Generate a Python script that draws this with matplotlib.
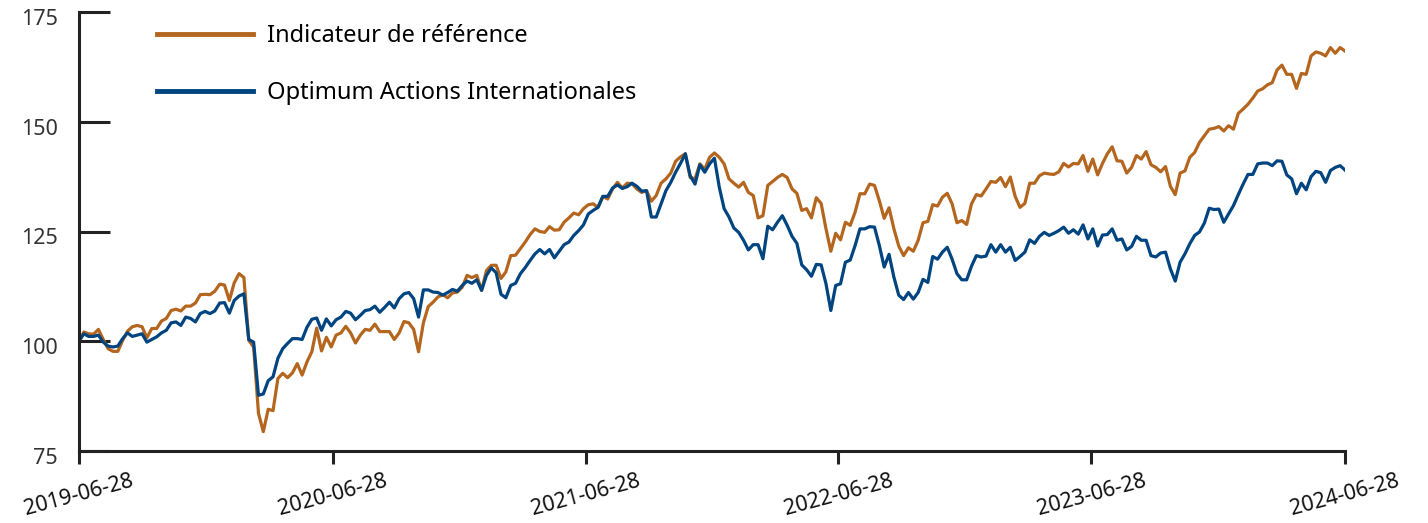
import numpy as np
import pandas as pd
import matplotlib
matplotlib.use("Agg")
import matplotlib.pyplot as plt
import matplotlib.dates as mdates
from matplotlib.transforms import ScaledTranslation

plt.rcParams['font.family'] = ['Noto Sans', 'DejaVu Sans']

# weekly values, 2019-06-28 -> 2024-06-28
start_date = "2019-06-28"
tick_dates = ["2019-06-28", "2020-06-28", "2021-06-28", "2022-06-28", "2023-06-28", "2024-06-28"]
series_names = ["Indicateur de référence", "Optimum Actions Internationales"]

ref_y1 = [100.0, 102.1, 101.7, 101.6, 102.7, 100.4, 98.3, 97.7, 97.7, 100.2, 102.3, 103.3, 103.6,
          103.3, 100.8, 102.9, 102.9, 104.6, 105.2, 107.0, 107.3, 106.9, 108.0, 108.0, 108.7, 110.6,
          110.7, 110.6, 111.4, 113.0, 112.8, 109.3, 113.3, 115.4, 114.5, 100.2, 98.7, 83.6, 79.4,
          84.5, 84.2, 91.5, 92.7, 91.7, 92.8, 94.9, 92.3, 95.3, 97.6, 103.0, 97.8, 100.9]
ref_y2 = [98.7, 101.4, 101.9, 103.4, 101.9, 99.6, 101.4, 102.7, 102.5, 103.9, 102.2, 102.2, 102.2,
          100.4, 101.9, 104.5, 104.2, 102.7, 97.6, 104.2, 107.9, 108.9, 110.1, 110.6, 109.9, 111.0,
          111.2, 112.3, 115.0, 114.5, 115.0, 111.6, 116.1, 117.3, 117.3, 114.3, 115.8, 119.5, 119.6,
          121.1, 122.6, 124.3, 125.6, 125.0, 124.8, 126.1, 125.3, 125.4, 127.1, 128.1, 129.2, 128.8,
          130.2, 131.1]
ref_y3 = [131.3, 130.5, 133.0, 132.4, 134.7, 136.2, 134.9, 136.0, 135.9, 134.7, 133.9, 134.3, 131.9,
          133.2, 136.0, 137.0, 138.3, 141.0, 142.0, 142.7, 137.3, 137.0, 140.4, 139.2, 141.9, 142.9,
          141.9, 140.4, 137.0, 136.0, 135.1, 136.2, 133.9, 133.2, 128.1, 128.6, 135.5, 136.4, 137.3,
          138.0, 137.3, 134.7, 133.7, 129.8, 130.2, 128.1, 132.7, 131.4, 125.6, 120.5, 124.6, 123.1,
          127.1, 126.4]
ref_y4 = [129.4, 133.6, 133.6, 135.8, 135.5, 132.0, 128.0, 130.4, 125.6, 121.7, 119.5, 121.3, 120.5,
          123.0, 127.0, 127.3, 131.1, 130.8, 132.8, 133.7, 131.3, 127.0, 127.5, 126.6, 131.3, 133.4,
          133.1, 134.7, 136.4, 136.2, 137.3, 135.2, 137.4, 133.0, 130.5, 131.4, 136.0, 136.0, 137.7,
          138.3, 138.1, 138.0, 138.6, 140.5, 139.7, 140.5, 140.4]
ref_y5 = [142.3, 138.7, 141.5, 137.9, 140.5, 142.7, 144.3, 141.1, 141.0, 138.3, 139.6, 142.3, 141.5,
          143.2, 140.2, 139.6, 138.6, 139.8, 135.3, 133.4, 138.3, 138.8, 141.9, 143.0, 145.3, 146.8,
          148.3, 148.5, 148.9, 147.9, 149.1, 148.3, 151.9, 152.9, 154.0, 155.4, 157.0, 157.5, 158.4,
          158.9, 161.8, 162.9, 160.8, 160.8, 157.6, 161.0, 160.8, 165.0, 165.9, 165.6, 165.0, 166.9,
          165.6, 166.9, 166.1]

fund_y1 = [100.0, 101.7, 101.1, 101.1, 101.4, 99.8, 98.9, 98.7, 98.9, 100.6, 101.9, 101.1, 101.4,
           101.7, 99.8, 100.4, 101.0, 101.9, 102.5, 104.2, 104.4, 103.6, 105.5, 105.2, 104.4, 106.3,
           106.8, 106.3, 106.9, 108.7, 108.8, 106.4, 109.3, 110.3, 110.8, 100.4, 99.8, 87.7, 88.0,
           91.0, 91.9, 96.1, 98.3, 99.5, 100.6, 100.6, 100.4, 103.2, 105.0, 105.3, 102.5, 105.1]
fund_y2 = [103.5, 104.9, 105.5, 106.8, 106.4, 104.9, 105.9, 107.0, 107.2, 108.0, 106.6, 107.7, 108.9,
           107.6, 109.7, 110.8, 111.1, 109.7, 105.5, 111.7, 111.7, 111.2, 111.1, 110.5, 111.1, 111.8,
           111.4, 112.7, 113.7, 113.2, 114.0, 111.6, 115.0, 116.7, 115.6, 110.7, 109.9, 112.7, 113.2,
           115.4, 116.8, 118.4, 119.9, 120.9, 119.9, 120.9, 119.0, 120.5, 122.0, 122.6, 124.1, 125.2,
           126.5, 129.0]
fund_y3 = [129.8, 130.5, 133.0, 133.0, 134.9, 135.6, 134.8, 135.2, 136.0, 135.3, 134.2, 134.3, 128.3,
           128.3, 131.3, 134.3, 136.2, 138.5, 140.5, 142.7, 137.7, 135.8, 140.2, 138.5, 140.4, 141.7,
           135.1, 130.2, 128.3, 125.8, 124.8, 123.0, 120.8, 122.0, 122.0, 118.8, 126.2, 125.4, 127.1,
           128.6, 126.4, 123.9, 122.3, 117.4, 116.3, 114.8, 117.5, 117.4, 113.1, 107.0, 112.7, 113.1,
           118.0, 118.5]
fund_y4 = [121.8, 125.6, 125.6, 126.1, 126.0, 121.8, 116.9, 119.8, 114.6, 110.5, 109.5, 111.1, 109.6,
           111.1, 114.1, 113.4, 119.3, 118.7, 120.3, 121.4, 118.7, 115.4, 114.0, 114.0, 117.1, 119.5,
           119.2, 119.4, 122.0, 120.3, 122.0, 120.3, 121.4, 118.4, 119.3, 120.3, 123.1, 122.3, 123.9,
           124.8, 124.1, 124.6, 125.2, 126.0, 124.6, 125.4, 124.4]
fund_y5 = [126.5, 123.3, 125.6, 121.7, 124.2, 124.3, 125.6, 123.0, 123.3, 120.8, 121.6, 123.9, 123.0,
           123.0, 119.5, 119.2, 120.1, 120.3, 116.5, 113.7, 118.0, 119.9, 122.2, 124.1, 124.9, 126.9,
           130.3, 130.0, 130.1, 127.1, 129.0, 130.9, 133.4, 135.8, 138.0, 138.0, 140.4, 140.6, 140.6,
           140.0, 141.1, 141.0, 137.9, 137.0, 133.6, 136.0, 134.5, 137.5, 138.7, 138.4, 136.2, 138.9,
           139.6, 140.0, 139.0]

ref = ref_y1 + ref_y2 + ref_y3 + ref_y4 + ref_y5
fund = fund_y1 + fund_y2 + fund_y3 + fund_y4 + fund_y5
dates = pd.date_range(start_date, periods=len(ref), freq="7D")

orange = "#B4661E"
blue = "#004480"
dark = "#222222"

fig = plt.figure(figsize=(14.28, 5.23), dpi=100)
ax = fig.add_axes([79 / 1428, 1 - 451 / 523, (1345 - 79) / 1428, (451 - 12) / 523])

ax.plot(dates, ref, color=orange, lw=2.3, label=series_names[0])
ax.plot(dates[:len(fund)], fund, color=blue, lw=2.3, label=series_names[1])

ax.set_ylim(75, 175)
ax.set_yticks([75, 100, 125, 150, 175])
ax.set_xlim(pd.Timestamp(tick_dates[0]), pd.Timestamp(tick_dates[-1]))
ax.set_xticks([pd.Timestamp(d) for d in tick_dates])
ax.set_xticklabels(tick_dates, rotation=15, ha="center")

for s in ["top", "right"]:
    ax.spines[s].set_visible(False)
for s in ["left", "bottom"]:
    ax.spines[s].set_linewidth(2.2)
    ax.spines[s].set_color(dark)

ax.tick_params(axis="y", direction="in", length=22, width=2.2, color=dark,
               labelsize=15.5, labelcolor="#333333", pad=15)
ax.tick_params(axis="x", direction="out", length=9, width=2.2, color=dark,
               labelsize=15.5, labelcolor="#111111", pad=5)
for lab in ax.get_yticklabels():
    lab.set_transform(lab.get_transform() + ScaledTranslation(0, -5 / 100, fig.dpi_scale_trans))

leg = ax.legend(loc="upper left", bbox_to_anchor=(0.045, 1.02), frameon=False, fontsize=17,
                handlelength=4.05, handletextpad=0.62, labelspacing=1.38)
for line in leg.get_lines():
    line.set_linewidth(3.5)

fig.savefig("out.png", dpi=100)
